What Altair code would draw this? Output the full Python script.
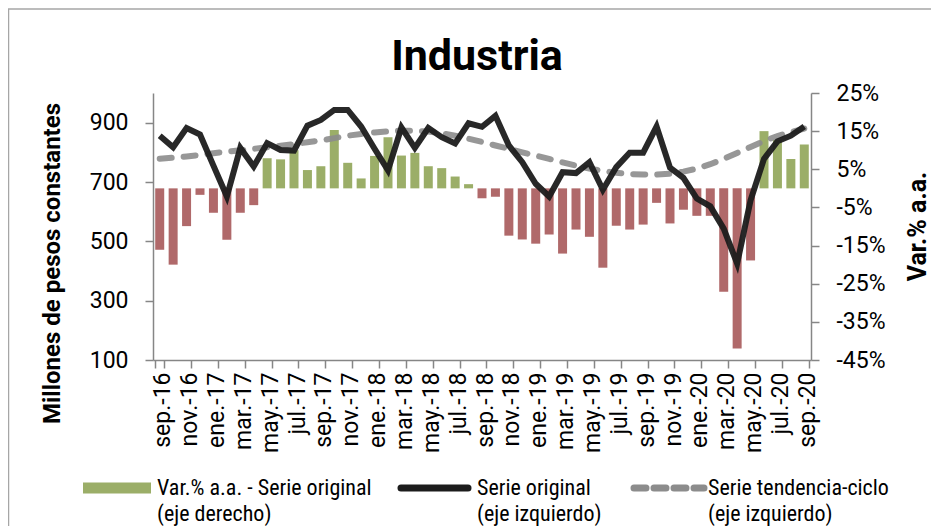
import altair as alt
import pandas as pd

# ---------------- data ----------------
month_abbr = ["ene.", "feb.", "mar.", "abr.", "may.", "jun.",
              "jul.", "ago.", "sep.", "oct.", "nov.", "dic."]
months = []
for k in range(49):
    m = (8 + k) % 12
    y = 16 + (8 + k) // 12
    months.append(f"{month_abbr[m]}-{y}")

# Serie original (millones de pesos constantes, eje izquierdo)
serie_original = [856, 817, 882, 860, 755, 651, 815, 752, 831, 808, 806, 890,
                  909, 943, 943, 887, 812, 739, 884, 815, 882, 851, 830, 898,
                  886, 923, 823, 767, 694, 651, 733, 730, 767, 674, 750, 799,
                  799, 887, 748, 714, 644, 618, 543, 425, 638, 778, 837, 856,
                  887]

# Serie tendencia-ciclo (eje izquierdo)
serie_tendencia = [778, 782, 786, 791, 797, 802, 807, 812, 817, 822, 828, 834,
                   840, 848, 856, 862, 867, 871, 873, 873, 870, 864, 856, 846,
                   835, 823, 812, 800, 789, 778, 766, 755, 745, 737, 731, 727,
                   725, 725, 728, 735, 745, 760, 778, 798, 818, 838, 855, 868,
                   880]

# Var.% a.a. - Serie original (eje derecho)
var_pct = [-16.1, -20.0, -9.9, -1.7, -6.4, -13.5, -6.4, -4.4, 7.9, 7.6, 10.0, 4.8,
           5.8, 15.3, 6.7, 2.6, 8.5, 13.4, 8.6, 9.3, 5.8, 5.3, 3.1, 1.1,
           -2.6, -2.2, -12.4, -13.4, -14.5, -12.1, -17.1, -10.8, -12.7, -20.8, -9.8, -10.8,
           -9.5, -3.8, -9.2, -5.6, -7.2, -7.2, -27.1, -42.0, -18.9, 15.0, 12.7, 7.7,
           11.5]

left_ticks = [100, 300, 500, 700, 900]
right_ticks = [-45, -35, -25, -15, -5, 5, 15, 25]
x_label_months = months[::2]

df = pd.DataFrame({"mes": months, "orig": serie_original,
                   "trend": serie_tendencia, "var": var_pct})

# ---------------- style ----------------
W, H = 658, 267
FONT = "Roboto"
NARROW = "Liberation Sans Narrow, Roboto Condensed, Roboto"
AXIS_GRAY = "#868686"
GREEN = "#9bae68"
RED = "#b0696a"
BLACK = "#1c1c1c"
GRAY = "#8c8c8c"

xenc = alt.X("mes:N", sort=months,
             scale=alt.Scale(paddingInner=0.33, paddingOuter=0.165),
             axis=alt.Axis(values=x_label_months, title=None, labelAngle=-90,
                           tickBand="extent", labelFontSize=23, labelPadding=4,
                           labelOffset=3, tickSize=8))

bars = alt.Chart(df).mark_bar().encode(
    x=xenc,
    y=alt.Y("var:Q", scale=alt.Scale(domain=[-45, 25], nice=False, zero=False),
            axis=alt.Axis(orient="right", values=right_ticks,
                          labelExpr="datum.value + '%'", title="Var.% a.a.",
                          titleAngle=-90, titleX=106, titleY=133,
                          titleAlign="center", titleBaseline="middle",
                          titleFontSize=25, labelPadding=17, tickSize=8)),
    y2=alt.datum(0),
    color=alt.condition("datum.var >= 0", alt.value(GREEN), alt.value(RED)),
)

yleft = alt.Scale(domain=[100, 1000], nice=False, zero=False)
yaxis_left = alt.Axis(orient="left", values=left_ticks,
                      title="Millones de pesos constantes",
                      titleAngle=-90, titleX=-101, titleY=170,
                      titleAlign="center", titleBaseline="middle",
                      labelPadding=17, tickSize=8)

trend = alt.Chart(df).mark_line(
    color=GRAY, strokeWidth=6, strokeDash=[12, 12], strokeCap="round",
    opacity=0.9).encode(
    x=xenc, y=alt.Y("trend:Q", scale=yleft, axis=yaxis_left))

orig = alt.Chart(df).mark_line(
    color=BLACK, strokeWidth=6, strokeJoin="miter", opacity=0.95).encode(
    x=xenc, y=alt.Y("orig:Q", scale=yleft, axis=yaxis_left))

lines = alt.layer(trend, orig)

one = pd.DataFrame({"k": [0]})

title = alt.Chart(one).mark_text(
    text="Industria", font=FONT, fontSize=43, fontWeight="bold",
    align="center", baseline="alphabetic", color="black").encode(
    x=alt.value(324), y=alt.value(-23))

frame_top = alt.Chart(one).mark_rule(color="#a6a6a6", strokeWidth=1.5).encode(
    x=alt.value(-145), x2=alt.value(790), y=alt.value(-84))
frame_left = alt.Chart(one).mark_rule(color="#a6a6a6", strokeWidth=1.5).encode(
    x=alt.value(-144.5), y=alt.value(-84), y2=alt.value(440))

LY1, LY2 = 395, 421
leg_rect = alt.Chart(one).mark_rect(color=GREEN).encode(
    x=alt.value(-70), x2=alt.value(-2), y=alt.value(LY1 - 5.5), y2=alt.value(LY1 + 5.5))
leg_black = alt.Chart(one).mark_rule(color=BLACK, strokeWidth=7, strokeCap="round").encode(
    x=alt.value(248), x2=alt.value(315), y=alt.value(LY1))
leg_gray = alt.Chart(one).mark_rule(color=GRAY, strokeWidth=7, strokeCap="round",
                                    strokeDash=[12, 8]).encode(
    x=alt.value(481), x2=alt.value(551), y=alt.value(LY1))


def legtext(txt, x, y):
    return alt.Chart(one).mark_text(
        text=txt, font=NARROW, fontSize=22, align="left", baseline="middle",
        color="black").encode(x=alt.value(x), y=alt.value(y))


legend_texts = [
    legtext("Var.% a.a. - Serie original", 4, LY1),
    legtext("(eje derecho)", 4, LY2),
    legtext("Serie original", 324, LY1),
    legtext("(eje izquierdo)", 324, LY2),
    legtext("Serie tendencia-ciclo", 555, LY1),
    legtext("(eje izquierdo)", 555, LY2),
]

main = alt.layer(bars, lines).resolve_scale(y="independent")

chart = alt.layer(
    main, title, frame_top, frame_left, leg_rect, leg_black, leg_gray, *legend_texts
).properties(
    width=W, height=H,
    padding={"left": 145, "top": 85, "right": 120, "bottom": 166},
    autosize=alt.AutoSizeParams(type="none"),
).configure_view(stroke=None).configure_axis(
    domainColor=AXIS_GRAY, tickColor=AXIS_GRAY, domainWidth=1.5, tickWidth=1.5,
    grid=False, labelColor="black", labelFont=FONT, labelFontSize=23,
    titleFont=FONT, titleFontSize=24, titleFontWeight="bold", titleColor="black",
)

chart.save("out.html", embed_options={"renderer": "svg", "actions": False})
